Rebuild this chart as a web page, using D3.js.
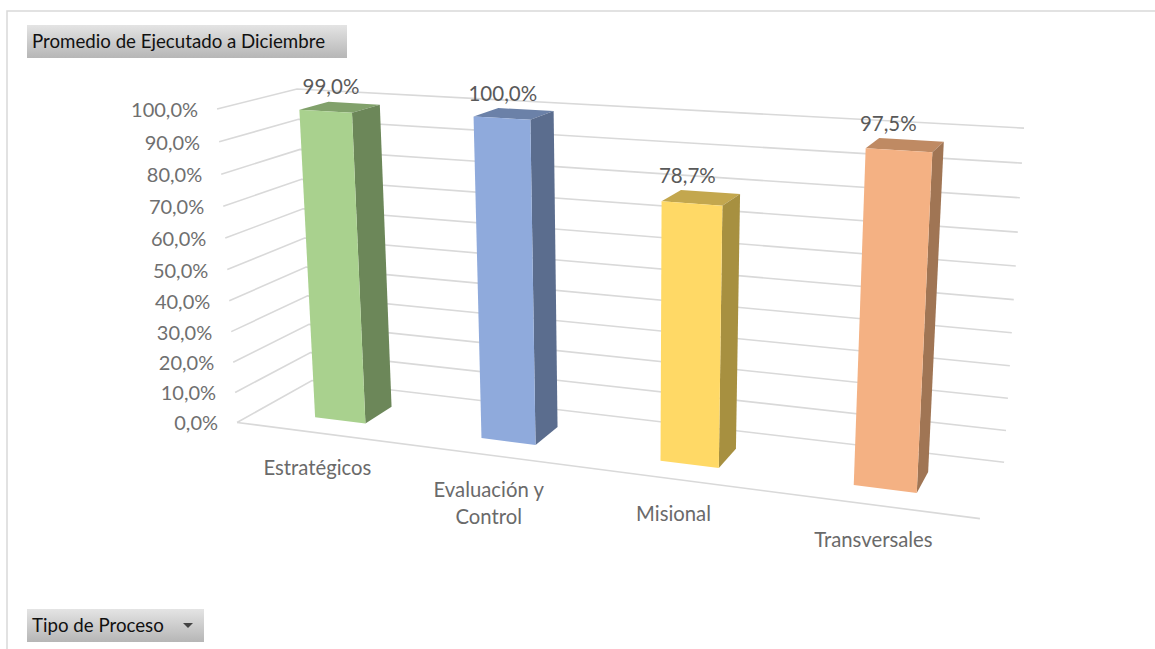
<!DOCTYPE html>
<html><head><meta charset="utf-8">
<script src="https://cdnjs.cloudflare.com/ajax/libs/d3/7.8.5/d3.min.js"></script>
<style>html,body{margin:0;padding:0;background:#fff;overflow:hidden}svg{display:block}text{font-family:Lato,"Open Sans",sans-serif}</style>
</head><body><svg id="c" width="1155" height="649"></svg>
<script>
const categories = ["Estratégicos", "Evaluación y\nControl", "Misional", "Transversales"];
const values = [99.0, 100.0, 78.7, 97.5];
const ticks = [0, 10, 20, 30, 40, 50, 60, 70, 80, 90, 100];
const frontColors = ["#a9d18e", "#8faadc", "#ffd966", "#f4b183"];
const sideColors = ["#6c8759", "#5b6d8e", "#a79040", "#a07554"];
const topColors = ["#81a16b", "#6b81a8", "#c3a74e", "#bf8a63"];

const svg = d3.select("#c");
const fmt = d3.formatLocale({decimal: ",", thousands: ".", grouping: [3], currency: ["", ""]}).format(".1f");
const pct = v => fmt(v) + "%";

// perspective camera of the 3-D plot box: x, v, z in 0..1, z=1 is the back wall
const calib = [
  [0,1,0,217,109],[0,0,0,237,423],[1,0,0,980,518],[1,0,1,1004,463],
  [1,1,1,1024,128],[0,1,1,297,89],[0,0,1,312,380]
];
function solveCam(pts){
  const A = [], b = [];
  pts.forEach(([X,Y,Z,x,y])=>{
    A.push([X,Y,Z,1,0,0,0,0,-x*X,-x*Y,-x*Z]); b.push(x);
    A.push([0,0,0,0,X,Y,Z,1,-y*X,-y*Y,-y*Z]); b.push(y);
  });
  const n = 11, M = d3.range(n).map(i=>d3.range(n+1).map(j=>{
    let s = 0; A.forEach((r,k)=>{ s += r[i]*(j<n ? r[j] : b[k]); }); return s; }));
  for(let i=0;i<n;i++){
    let p=i; for(let r=i+1;r<n;r++) if(Math.abs(M[r][i])>Math.abs(M[p][i])) p=r;
    [M[i],M[p]]=[M[p],M[i]];
    for(let r=0;r<n;r++) if(r!==i){ const f=M[r][i]/M[i][i]; for(let c=i;c<=n;c++) M[r][c]-=f*M[i][c]; }
  }
  return M.map((r,i)=>r[n]/r[i]);
}
const P = solveCam(calib);
const yScale = d3.scaleLinear().domain([0,100]).range([0,1]);
const xScale = d3.scaleBand().domain(categories).range([0.002,1.002]).paddingInner(0.69).paddingOuter(0.345);
const zFront = 0.28, zBack = 0.66;
function proj(x,v,z){
  const Y = yScale(v), w = P[8]*x+P[9]*Y+P[10]*z+1;
  return [(P[0]*x+P[1]*Y+P[2]*z+P[3])/w, (P[4]*x+P[5]*Y+P[6]*z+P[7])/w];
}
const line = d3.line();
const poly = pts => line(pts)+"Z";

// frame
svg.append("path").attr("d","M7,649V11H1155").attr("fill","none").attr("stroke","#d9d9d9").attr("stroke-width",1.5);

// gridlines
const grid = svg.append("g").attr("fill","none").attr("stroke","#d9d9d9").attr("stroke-width",1.6);
grid.selectAll("path.g").data(ticks).join("path").attr("class","g")
  .attr("d",t=>line([proj(0,t,0),proj(0,t,1),proj(1,t,1)]));
grid.append("path").attr("d",line([proj(0,0,0),proj(1,0,0)]));

// value-axis labels
svg.append("g").selectAll("text").data(ticks).join("text")
  .attr("x",t=>proj(0,t,0)[0]-19).attr("y",t=>proj(0,t,0)[1]+8)
  .attr("text-anchor","end").attr("font-size",20).attr("fill","#6f6f6f").text(pct);

// bars
const rows = categories.map((c,i)=>({c,v:values[i],i}));
const bars = svg.append("g").selectAll("g").data(rows).join("g");
bars.append("path").attr("fill",d=>topColors[d.i]).attr("d",d=>{
  const a=xScale(d.c),b=a+xScale.bandwidth();
  return poly([proj(a,d.v,zFront),proj(b,d.v,zFront),proj(b,d.v,zBack),proj(a,d.v,zBack)]);});
bars.append("path").attr("fill",d=>sideColors[d.i]).attr("d",d=>{
  const b=xScale(d.c)+xScale.bandwidth();
  return poly([proj(b,0,zFront),proj(b,d.v,zFront),proj(b,d.v,zBack),proj(b,0,zBack)]);});
bars.append("path").attr("fill",d=>frontColors[d.i]).attr("d",d=>{
  const a=xScale(d.c),b=a+xScale.bandwidth();
  return poly([proj(a,0,zFront),proj(a,d.v,zFront),proj(b,d.v,zFront),proj(b,0,zFront)]);});

// data labels
svg.append("g").selectAll("text").data(rows).join("text")
  .attr("x",d=>proj(xScale(d.c)+xScale.bandwidth()/2,d.v,zBack)[0]-23)
  .attr("y",d=>proj(xScale(d.c)+xScale.bandwidth()/2,d.v,zBack)[1]-9)
  .attr("text-anchor","middle").attr("font-size",20.5).attr("fill","#595959").text(d=>pct(d.v));

// category labels
const cat = svg.append("g").selectAll("text").data(rows).join("text")
  .attr("text-anchor","middle").attr("font-size",20.3).attr("fill","#6a6a6a");
cat.each(function(d){
  const p = proj(xScale(d.c)+xScale.bandwidth()/2,0,0);
  d3.select(this).selectAll("tspan").data(d.c.split("\n")).join("tspan")
    .attr("x",p[0]-2).attr("y",(_,k)=>p[1]+42+k*27).text(s=>s);
});

// pivot buttons
const defs = svg.append("defs");
const grad = defs.append("linearGradient").attr("id","btn").attr("x1",0).attr("x2",0).attr("y1",0).attr("y2",1);
grad.append("stop").attr("offset",0).attr("stop-color","#e4e4e4");
grad.append("stop").attr("offset",1).attr("stop-color","#b6b6b6");
[{x:27,y:25,w:320,h:33,t:"Promedio de Ejecutado a Diciembre"},{x:27,y:609,w:177,h:33,t:"Tipo de Proceso"}].forEach(b=>{
  svg.append("rect").attr("x",b.x).attr("y",b.y).attr("width",b.w).attr("height",b.h).attr("fill","url(#btn)");
  svg.append("text").attr("x",b.x+5).attr("y",b.y+23).attr("font-size",18.7).attr("fill","#111").text(b.t);
});
svg.append("path").attr("d","M183,623H193L188,628Z").attr("fill","#444");
</script></body></html>
